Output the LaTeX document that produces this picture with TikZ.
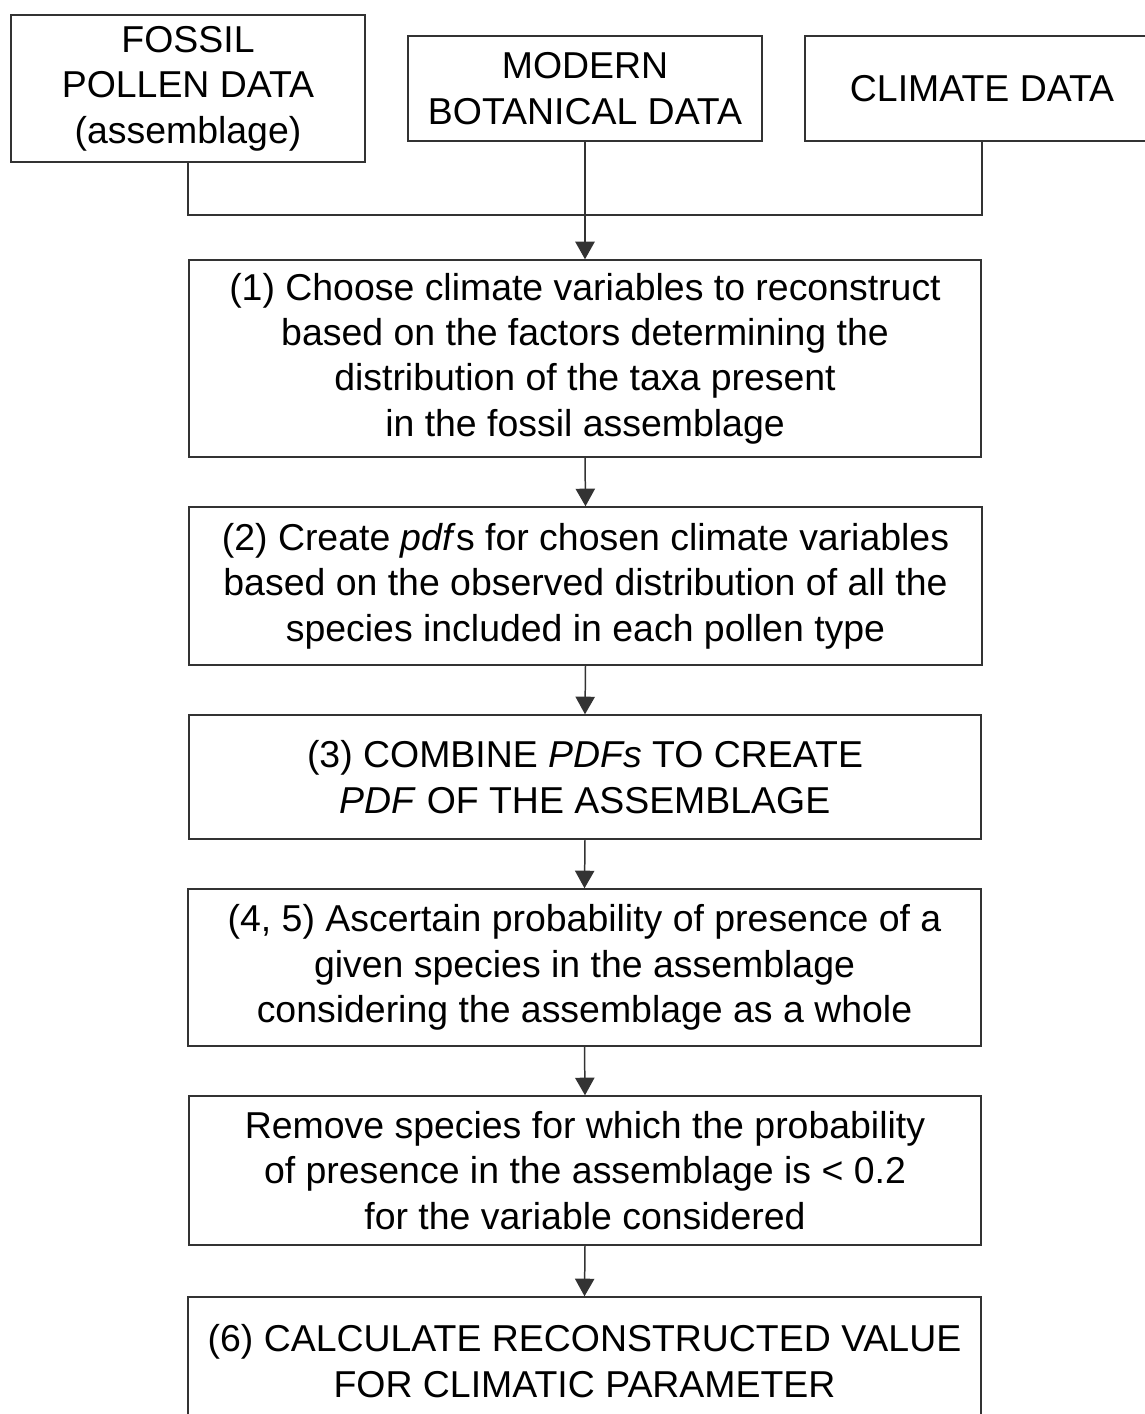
\documentclass[tikz,border=0pt]{standalone}
\usepackage{fontspec}
\setmainfont{Liberation Sans}
\usepackage{tikz}
\usetikzlibrary{arrows.meta}

\tikzset{
	block/.style={draw=black!80, line width=0.85pt, rectangle, align=center, inner sep=0pt, font=\fontsize{21.3}{25.8}\selectfont},
	arr/.style={draw=black!80, line width=0.85pt, -{Triangle[width=11pt,length=10pt]}}
}

\begin{document}
\begin{tikzpicture}
	\useasboundingbox (0,0) rectangle (22.9,-28.28);
	% data sources
	\node[block, minimum width=7.08cm, minimum height=2.94cm] (fossil) at (3.76,-1.77) {FOSSIL\\POLLEN DATA\\(assemblage)};
	\node[block, minimum width=7.08cm, minimum height=2.10cm] (modern) at (11.70,-1.77) {MODERN\\BOTANICAL DATA};
	\node[block, minimum width=7.08cm, minimum height=2.10cm] (climate) at (19.64,-1.77) {CLIMATE DATA};
	% steps
	\node[block, minimum width=15.84cm, minimum height=3.94cm] (step1) at (11.70,-7.17) {(1) Choose climate variables to reconstruct\\based on the factors determining the\\distribution of the taxa present\\in the fossil assemblage};
	\node[block, minimum width=15.86cm, minimum height=3.16cm] (step2) at (11.71,-11.72) {(2) Create \textit{pdf}s for chosen climate variables\\based on the observed distribution of all the\\species included in each pollen type};
	\node[block, minimum width=15.84cm, minimum height=2.48cm] (step3) at (11.70,-15.54) {(3) COMBINE \textit{PDFs} TO CREATE\\\textit{PDF} OF THE ASSEMBLAGE};
	\node[block, minimum width=15.86cm, minimum height=3.14cm] (step4) at (11.69,-19.35) {(4, 5) Ascertain probability of presence of a\\given species in the assemblage\\considering the assemblage as a whole};
	\node[block, minimum width=15.84cm, minimum height=2.98cm] (step5) at (11.70,-23.41) {Remove species for which the probability\\of presence in the assemblage is < 0.2\\for the variable considered};
	\node[block, minimum width=15.86cm, minimum height=2.56cm] (step6) at (11.69,-27.22) {(6) CALCULATE RECONSTRUCTED VALUE\\FOR CLIMATIC PARAMETER};
	% connectors
	\coordinate (join) at (11.70,-4.30);
	\draw[draw=black!80, line width=0.85pt] (fossil.south) |- (join) -| (climate.south);
	\draw[arr] (modern.south) -- (step1.north);
	\draw[arr] (step1.south) -- (step2.north);
	\draw[arr] (step2.south) -- (step3.north);
	\draw[arr] (step3.south) -- (step4.north);
	\draw[arr] (step4.south) -- (step5.north);
	\draw[arr] (step5.south) -- (step6.north);
\end{tikzpicture}
\end{document}
